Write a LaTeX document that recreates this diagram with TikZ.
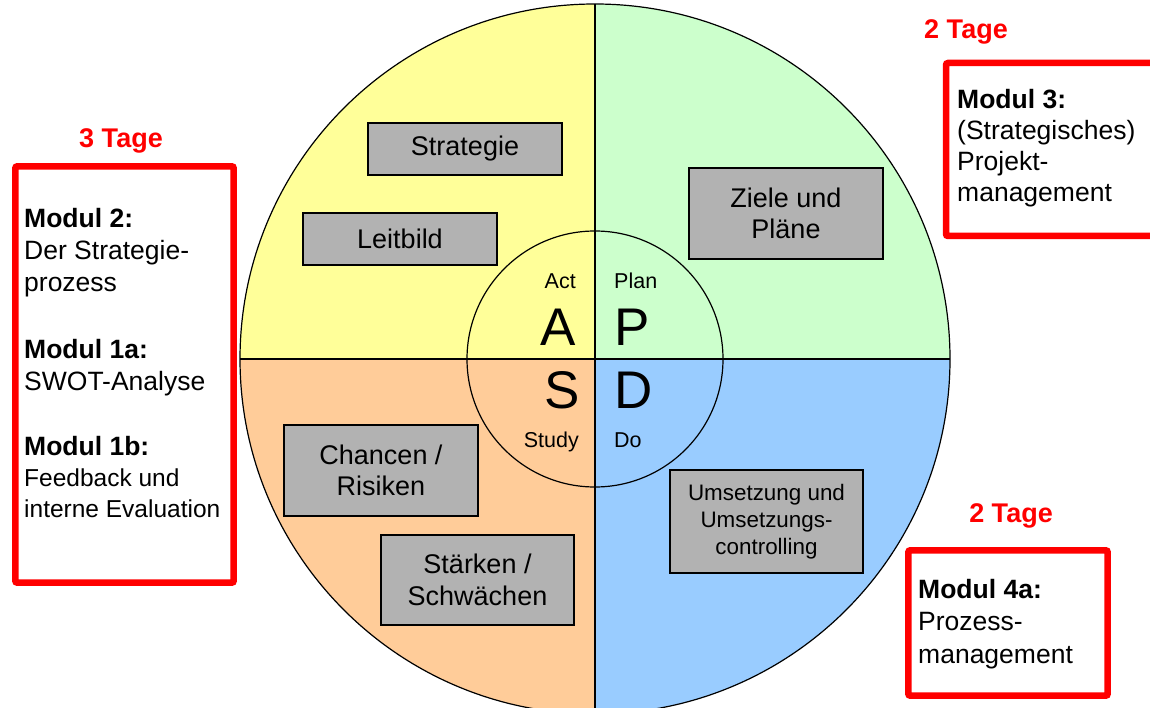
\documentclass[tikz,border=0pt]{standalone}
\usepackage{xcolor}
\usepackage{fontspec}
\setmainfont{Liberation Sans}
\usepackage{tikz}

\definecolor{actyellow}{HTML}{FFFF99}
\definecolor{plangreen}{HTML}{CCFFCC}
\definecolor{studyorange}{HTML}{FFCC99}
\definecolor{doblue}{HTML}{99CCFF}
\definecolor{boxgrey}{HTML}{B2B2B2}
\definecolor{framered}{HTML}{FF0000}

\begin{document}
\begin{tikzpicture}[x=1pt,y=-1pt,
		greybox/.style={draw=black, fill=boxgrey, line width=1.2pt, align=center, inner sep=0pt, minimum width=194pt, font=\fontsize{27}{31.5}\selectfont},
		redframe/.style={draw=framered, line width=6.5pt, rounded corners=2pt, inner sep=0pt},
		daylabel/.style={text=framered, anchor=base, inner sep=0pt, font=\fontsize{27}{30}\selectfont\bfseries},
		modtext/.style={anchor=base west, align=left, inner sep=0pt, font=\fontsize{26.5}{32.3}\selectfont},
		pdcaletter/.style={inner sep=0pt, font=\fontsize{53}{60}\selectfont},
		pdcaword/.style={inner sep=0pt, font=\fontsize{21.5}{24}\selectfont}]
		\useasboundingbox (0,0) rectangle (1150,708);
		\clip (0,0) rectangle (1150,708);
		\coordinate (c) at (595,359);

		% Quadrants of the PDCA circle
		\fill[actyellow] (c) -- ++(-355,0) arc[start angle=180, end angle=270, radius=355] -- cycle;
		\fill[plangreen] (c) -- ++(0,-355) arc[start angle=270, end angle=360, radius=355] -- cycle;
		\fill[doblue] (c) -- ++(355,0) arc[start angle=0, end angle=90, radius=355] -- cycle;
		\fill[studyorange] (c) -- ++(0,355) arc[start angle=90, end angle=180, radius=355] -- cycle;
		\draw[line width=1.2pt] (c) circle[radius=355];
		\draw[line width=1.2pt] (c) circle[radius=128];
		\draw[line width=1.2pt] (c) ++(-355,0) -- ++(710,0);
		\draw[line width=1.2pt] (c) ++(0,-355) -- ++(0,710);

		% Letters in the inner circle
		\node[pdcaletter, anchor=base] (A) at (558,345) {A};
		\node[pdcaletter, anchor=base west] (P) at (614,345) {P};
		\node[pdcaletter, anchor=base] (S) at (562,408) {S};
		\node[pdcaletter, anchor=base west] (D) at (614,408) {D};
		\node[pdcaword, anchor=base east] (act) at (576,289) {Act};
		\node[pdcaword, anchor=base west] (plan) at (614,289) {Plan};
		\node[pdcaword, anchor=base east] (study) at (579,447) {Study};
		\node[pdcaword, anchor=base west] (do) at (614,447) {Do};

		% Grey boxes
		\node[greybox, minimum height=52pt] (strategie) at (465,149) {Strategie};
		\node[greybox, minimum height=52pt] (leitbild) at (400,239) {Leitbild};
		\node[greybox, minimum height=91pt] (ziele) at (786,213.5) {Ziele und\\Pläne};
		\node[greybox, minimum height=91pt] (chancen) at (381,470.5) {Chancen /\\Risiken};
		\node[greybox, minimum height=90pt, minimum width=193pt] (staerken) at (477.5,580) {Stärken /\\Schwächen};
		\node[greybox, minimum height=103pt, minimum width=193pt, font=\fontsize{22.4}{27}\selectfont] (umsetzung) at (766.5,521.5) {Umsetzung und\\Umsetzungs-\\controlling};

		% Red frames with the modules
		\node[redframe, minimum width=218.4pt, minimum height=416.4pt] (frame1) at (124.5,374.5) {};
		\node[redframe, minimum width=214pt, minimum height=173pt] (frame3) at (1053,149.5) {};
		\node[redframe, minimum width=199.4pt, minimum height=145.4pt] (frame4) at (1008,623) {};
		\node[daylabel] (days1) at (121,148) {3 Tage};
		\node[daylabel] (days3) at (966,39) {2 Tage};
		\node[daylabel] (days4) at (1011,522) {2 Tage};
		\node[modtext] (mod2) at (24,292) {\textbf{Modul 2:}\\Der Strategie-\\prozess};
		\node[modtext] (mod1a) at (24,390.5) {\textbf{Modul 1a:}\\SWOT-Analyse};
		\node[modtext, font=\fontsize{24.5}{31}\selectfont] (mod1b) at (24,517) {{\fontsize{26.5}{31}\selectfont\bfseries Modul 1b:}\\Feedback und\\interne Evaluation};
		\node[modtext, font=\fontsize{26.5}{31}\selectfont] (mod3) at (957,202) {\textbf{Modul 3:}\\(Strategisches)\\Projekt-\\management};
		\node[modtext] (mod4) at (918,663) {\textbf{Modul 4a:}\\Prozess-\\management};
\end{tikzpicture}
\end{document}
